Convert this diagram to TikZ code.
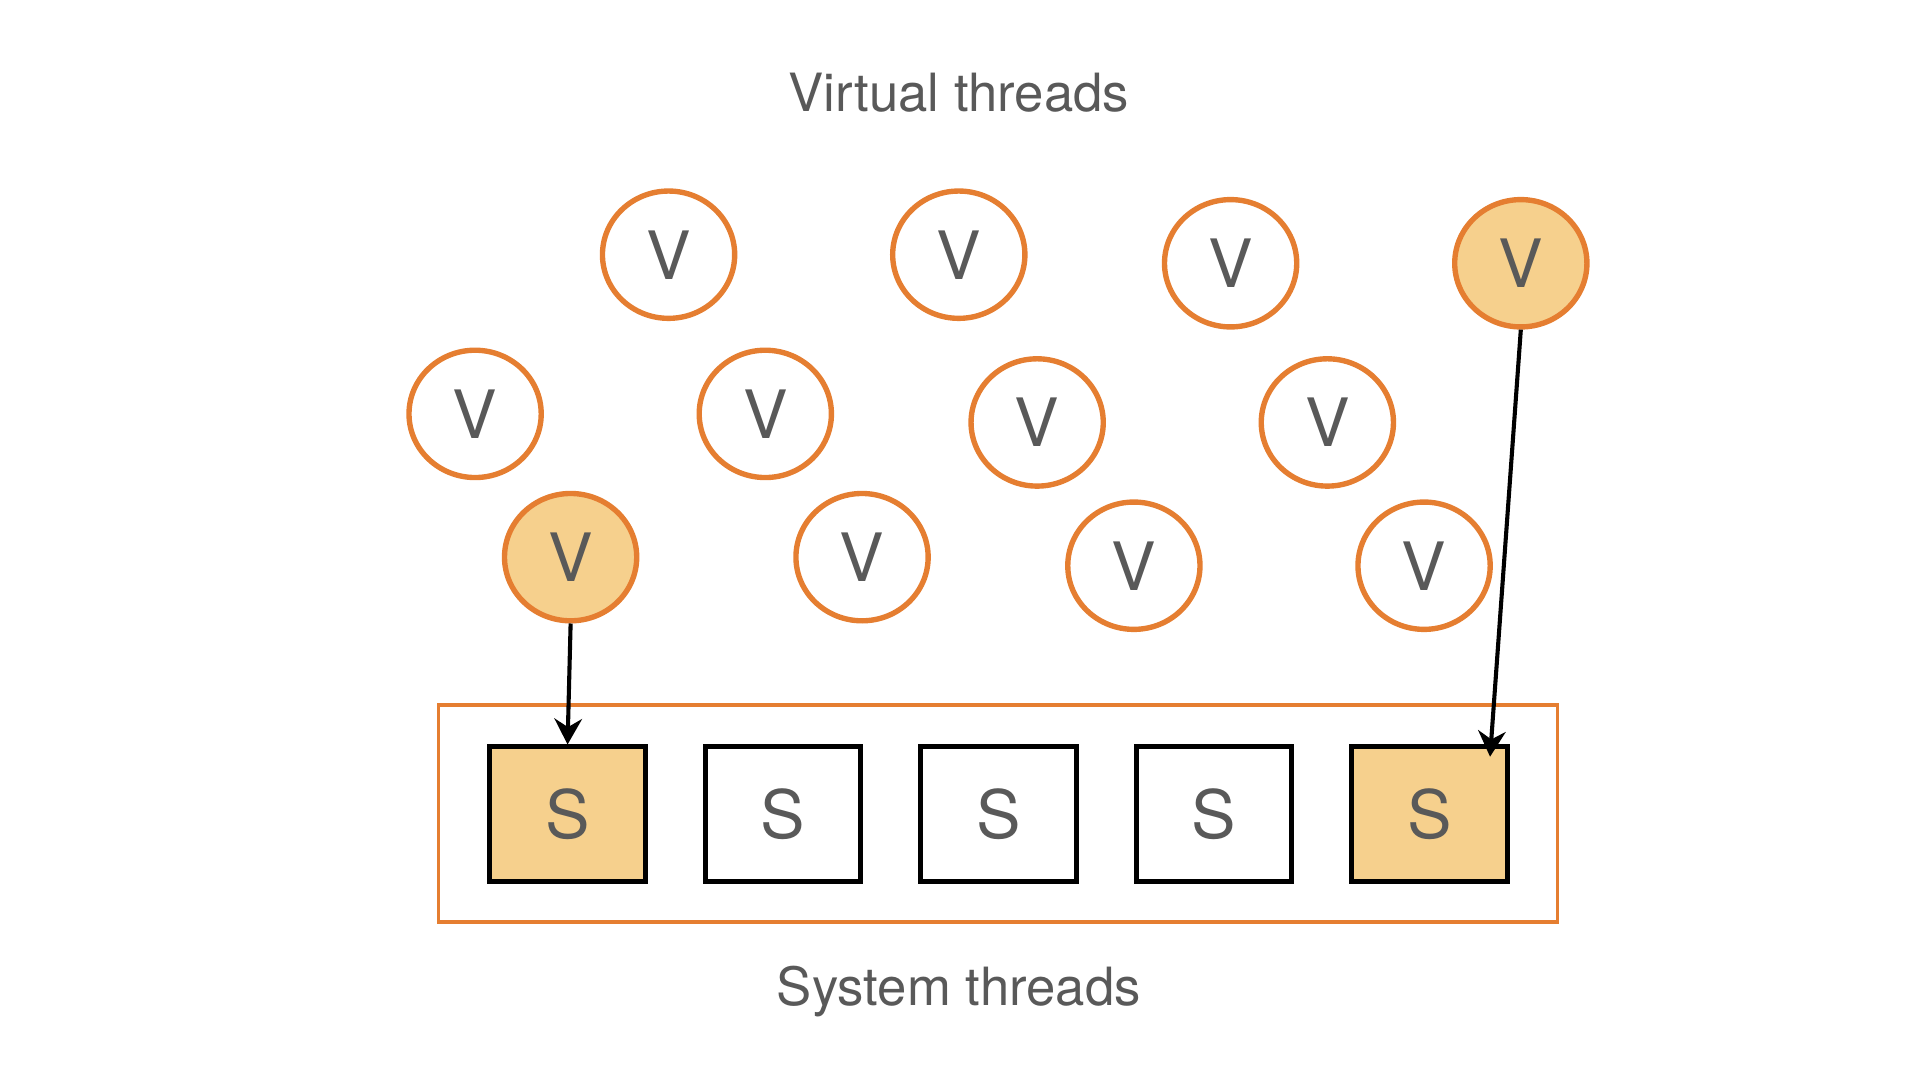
\documentclass[tikz,border=0pt]{standalone}
\usepackage{fontspec}
\setmainfont{TeX Gyre Heros}
\usetikzlibrary{positioning,arrows.meta}
\definecolor{vorange}{HTML}{E57E31}
\definecolor{vfill}{HTML}{F6D08D}
\definecolor{tgray}{HTML}{595959}
\tikzset{
  vthread/.style={draw=vorange, line width=2.5pt, ellipse, minimum width=2.16cm, minimum height=2.08cm, text=tgray, font=\fontsize{31}{31}\selectfont},
  sthread/.style={draw=black, line width=2.3pt, minimum width=2.54cm, minimum height=2.2cm, text=tgray, font=\fontsize{31}{31}\selectfont},
  busy/.style={fill=vfill},
  title/.style={text=tgray, font=\fontsize{24.5}{24.5}\selectfont}
}
\usetikzlibrary{shapes.geometric}
\begin{document}
\begin{tikzpicture}[x=0.02cm, y=-0.02cm, node distance=3.52cm]
    \useasboundingbox (0,0) rectangle (1568,882);
    \node[title] (vt) at (783,76) {Virtual threads};
    \node[title] (st) at (783,810) {System threads};
    % virtual threads
    \node[vthread] (v1) at (546,208) {V};
    \node[vthread] (v2) at (783,208) {V};
    \node[vthread] (v3) at (1005,215) {V};
    \node[vthread, busy] (v4) at (1242,215) {V};
    \node[vthread] (v5) at (388,338) {V};
    \node[vthread] (v6) at (625,338) {V};
    \node[vthread] (v7) at (847,345) {V};
    \node[vthread] (v8) at (1084,345) {V};
    \node[vthread, busy] (v9) at (466,455) {V};
    \node[vthread] (v10) at (704,455) {V};
    \node[vthread] (v11) at (926,462) {V};
    \node[vthread] (v12) at (1163,462) {V};
    % system threads
    \node[draw=vorange, line width=1.8pt, minimum width=18.28cm, minimum height=3.54cm] (pool) at (815,664.5) {};
    \node[sthread, busy] (s1) at (463.5,665) {S};
    \node[sthread, right of=s1] (s2) {S};
    \node[sthread, right of=s2] (s3) {S};
    \node[sthread, right of=s3] (s4) {S};
    \node[sthread, busy, right of=s4] (s5) {S};
    \draw[-{Stealth[length=0.42cm, width=0.45cm]}, line width=1.9pt] (v9.south) -- (s1.north);
    \draw[-{Stealth[length=0.42cm, width=0.45cm]}, line width=1.9pt] (v4.south) -- ([xshift=-0.32cm, yshift=-0.2cm]s5.north east);
\end{tikzpicture}
\end{document}
